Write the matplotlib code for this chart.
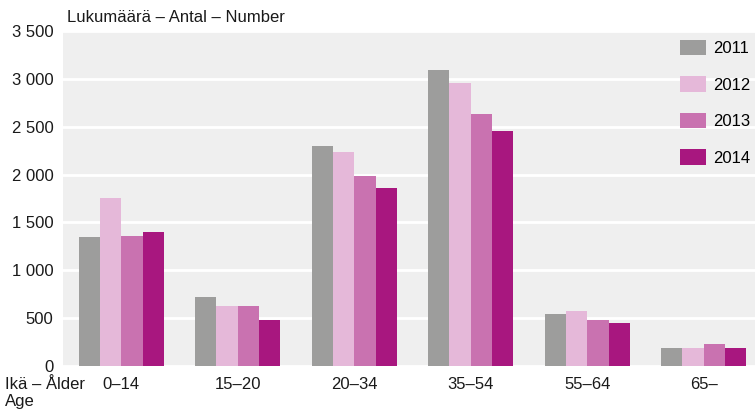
import numpy as np
import matplotlib.pyplot as plt

plt.rcParams['font.family'] = ['Liberation Sans', 'DejaVu Sans']

# ikäryhmät ja vuodet
groups = ['0–14', '15–20', '20–34', '35–54', '55–64', '65–']
years = ['2011', '2012', '2013', '2014']
v2011 = [1350, 720, 2300, 3090, 540, 190]
v2012 = [1760, 630, 2240, 2960, 570, 190]
v2013 = [1360, 630, 1980, 2630, 480, 230]
v2014 = [1400, 485, 1860, 2450, 450, 190]
yticks = [0, 500, 1000, 1500, 2000, 2500, 3000, 3500]
ytick_labels = ['0', '500', '1 000', '1 500', '2 000', '2 500', '3 000', '3 500']

colors = ['#9d9d9c', '#e5b8d9', '#c972b0', '#a8177f']
fs = 12

fig = plt.figure(figsize=(7.55, 4.09), dpi=100)
ax = fig.add_axes([63 / 755, 1 - 366 / 409, 1 - 63 / 755, 335 / 409])
ax.set_facecolor('#efefef')

x = np.arange(len(groups))
w = 0.183
for i, (vals, yr) in enumerate(zip([v2011, v2012, v2013, v2014], years)):
    ax.bar(x + (i - 1.5) * w, vals, width=w, color=colors[i], label=yr, zorder=3)

ax.set_xlim(-0.5, 5.44)
ax.set_ylim(0, 3500)
ax.set_yticks(yticks)
ax.set_yticklabels(ytick_labels)
ax.set_xticks(x)
ax.set_xticklabels(groups)
ax.tick_params(axis='both', length=0, labelsize=fs, colors='#1a1a1a')
ax.tick_params(axis='y', pad=7)
ax.tick_params(axis='x', pad=8)
for s in ax.spines.values():
    s.set_visible(False)
ax.grid(axis='y', color='white', linewidth=2, zorder=1)
ax.set_axisbelow(True)

leg = ax.legend(loc='upper right', frameon=False, fontsize=fs, handlelength=1.55,
                handleheight=1.05, labelspacing=1.2, handletextpad=0.45,
                bbox_to_anchor=(1.015, 1.018))

fig.text(67 / 755, 1 - 17 / 409, 'Lukumäärä – Antal – Number', fontsize=fs,
         va='center', ha='left', color='#1a1a1a')
fig.text(5 / 755, 1 - 393 / 409, 'Ikä – Ålder\nAge', fontsize=fs,
         va='center', ha='left', color='#1a1a1a', linespacing=1.1)

fig.savefig('out.png', dpi=100)
